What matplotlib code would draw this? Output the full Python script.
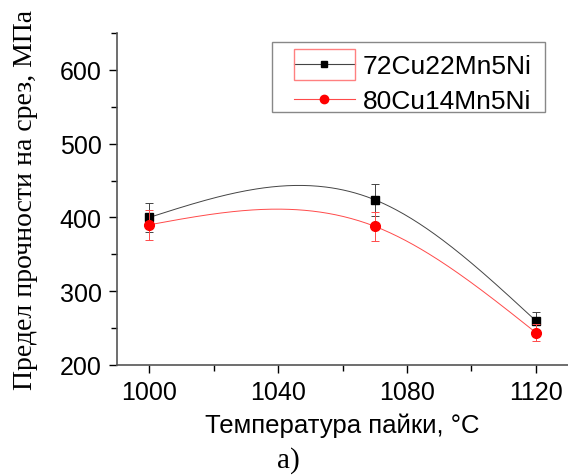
import matplotlib
matplotlib.use('Agg')
import matplotlib.pyplot as plt
from matplotlib.patches import Rectangle
import numpy as np

temp = [1000, 1070, 1120]
s1 = [400, 424, 260]
e1 = [20, 22, 12]
s2 = [390, 388, 244]
e2 = [20, 20, 12]
lab1 = '72Cu22Mn5Ni'
lab2 = '80Cu14Mn5Ni'


def nat_spline(x, y, n=200):
    # natural cubic spline, like Origin's "spline" connect
    x = np.asarray(x, float)
    y = np.asarray(y, float)
    h = np.diff(x)
    m = len(x)
    A = np.zeros((m, m))
    r = np.zeros(m)
    A[0, 0] = A[-1, -1] = 1
    for i in range(1, m - 1):
        A[i, i - 1] = h[i - 1]
        A[i, i] = 2 * (h[i - 1] + h[i])
        A[i, i + 1] = h[i]
        r[i] = 6 * ((y[i + 1] - y[i]) / h[i] - (y[i] - y[i - 1]) / h[i - 1])
    M = np.linalg.solve(A, r)
    xs = np.linspace(x[0], x[-1], n)
    ys = np.empty_like(xs)
    for k, t in enumerate(xs):
        i = min(np.searchsorted(x, t, side='right') - 1, m - 2)
        a = x[i + 1] - t
        b = t - x[i]
        ys[k] = (M[i] * a**3 + M[i + 1] * b**3) / (6 * h[i]) \
            + (y[i] / h[i] - M[i] * h[i] / 6) * a \
            + (y[i + 1] / h[i] - M[i + 1] * h[i] / 6) * b
    return xs, ys


fig = plt.figure(figsize=(5.68, 4.77), dpi=100)
ax = fig.add_axes([117/568, 111/477, 451/568, 332/477])

for yy, ee, c, lc, mk, ms, lab in [(s1, e1, 'black', '#444444', 's', 6, lab1),
                                   (s2, e2, 'red', '#ff4a4a', 'o', 7, lab2)]:
    xs, ys = nat_spline(temp, yy)
    ax.plot(xs, ys, color=lc, lw=0.7)
    ax.errorbar(temp, yy, yerr=ee, fmt='none', ecolor=lc, elinewidth=0.7,
                capsize=3, capthick=0.7)
    ax.plot(temp, yy, ls='none', marker=mk, ms=ms, color=c)
    ax.plot([], [], color=lc, lw=0.8, marker=mk, ms=ms - 1, mfc=c, mec=c,
            label=lab)

ax.set_xlim(990, 1130)
ax.set_ylim(200, 650)
ax.set_xticks([1000, 1040, 1080, 1120])
ax.set_xticks([1020, 1060, 1100], minor=True)
ax.set_yticks([200, 300, 400, 500, 600])
ax.set_yticks([250, 350, 450, 550, 650], minor=True)

for s in ['top', 'right']:
    ax.spines[s].set_visible(False)
for s in ['left', 'bottom']:
    ax.spines[s].set_color('#555555')
    ax.spines[s].set_linewidth(1.2)

ax.tick_params(which='major', length=6, width=1.0, labelsize=18, pad=5)
ax.tick_params(which='minor', length=4, width=1.0)
for t in ax.get_xticklabels() + ax.get_yticklabels():
    t.set_fontfamily('Liberation Sans')

ax.set_xlabel('Температура пайки, °C', fontsize=18.5,
              fontfamily='Liberation Sans', labelpad=6)
ax.set_ylabel('Предел прочности на срез, МПа', fontsize=20,
              fontfamily='Liberation Serif', labelpad=16)

leg = ax.legend(loc='upper left', bbox_to_anchor=(0.3925, 0.937),
                borderaxespad=0, borderpad=0, frameon=False,
                prop={'family': 'Liberation Sans', 'size': 19},
                handlelength=2.3, labelspacing=0.42, handletextpad=0.3)

# legend frame and the red selection box around the first handle
fig.patches.append(Rectangle((272/568, (477-113)/477), 273/568, 70/477,
                             transform=fig.transFigure, fill=False,
                             edgecolor='#888888', lw=1.0))
fig.patches.append(Rectangle((294/568, (477-81)/477), 61/568, 31/477,
                             transform=fig.transFigure, fill=False,
                             edgecolor='#ff8080', lw=1.0))

fig.text(288/568, 3/477, 'а)', ha='center', va='bottom', fontsize=21,
         fontfamily='Liberation Serif')

fig.savefig('out.png', dpi=100)
